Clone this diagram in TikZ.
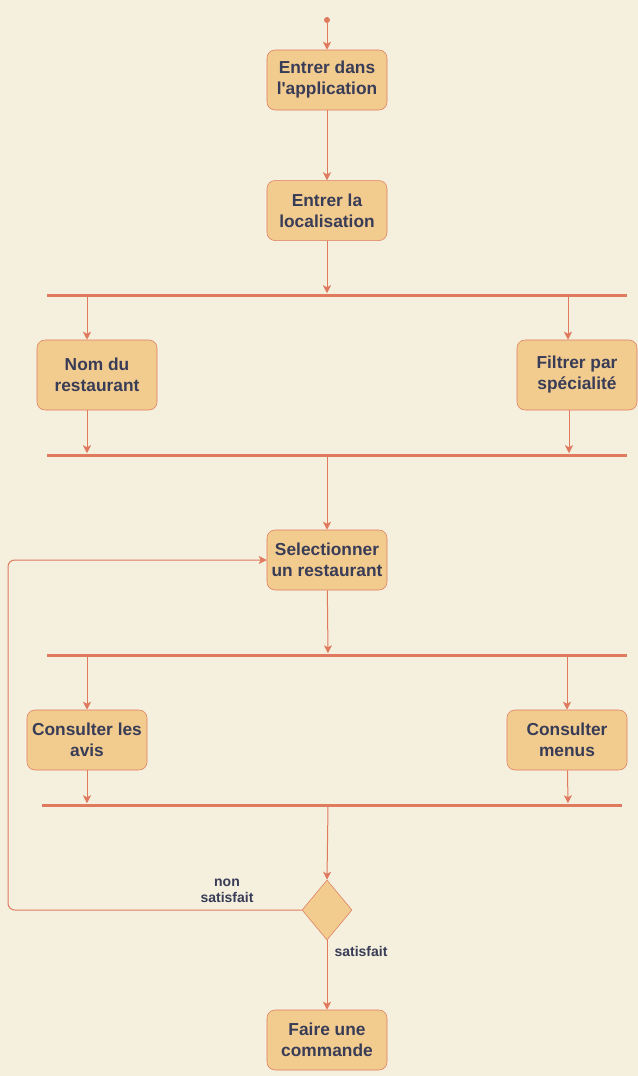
\documentclass[tikz,border=0pt]{standalone}
\usepackage{fontspec}
\newfontfamily\appfont{Liberation Sans}
\usetikzlibrary{positioning,shapes.geometric}
\usetikzlibrary{arrows.meta}
\definecolor{bgc}{HTML}{F4F0DD}
\definecolor{fillc}{HTML}{F2CC8F}
\definecolor{linec}{HTML}{E07A5F}
\definecolor{textc}{HTML}{393C56}

\begin{document}
\begin{tikzpicture}[x=0.75pt,y=-0.75pt]
\tikzstyle{act}=[rectangle, rounded corners=6pt, draw=linec, fill=fillc, text=textc, font=\appfont\bfseries\fontsize{13}{15.75}\selectfont, align=center, minimum width=90pt, minimum height=45pt, inner sep=1pt]
\tikzstyle{bar}=[rectangle, fill=linec, inner sep=0pt, minimum height=2.25pt, minimum width=435pt]
\tikzstyle{dot}=[circle, fill=linec, inner sep=0pt, minimum size=4.5pt]
\tikzstyle{decision}=[diamond, draw=linec, fill=fillc, inner sep=0pt, minimum width=37.5pt, minimum height=45pt]
\tikzstyle{connect}=[-{Stealth[length=6pt,width=6pt,inset=1.5pt]}, draw=linec, line width=0.75pt]
\tikzstyle{lab}=[text=textc, font=\appfont\bfseries\fontsize{10.5}{12}\selectfont, align=center, inner sep=0pt]
  \fill[bgc] (0,0) rectangle (638,1076);
  \useasboundingbox (0,0) rectangle (638,1076);
  \node[dot] (start) at (327,20) {};
  \node[act] (app) at (327,80) {Entrer dans\\l'application};
  \node[act, below=52.5pt of app] (loc) {Entrer la\\localisation};
  \path (start) edge [connect] (app);
  \path (app) edge [connect] (loc);
  \node[bar] (fork1) at (337,295) {};
  \draw[connect] (loc) -- (loc |- fork1.north);
  \node[act, minimum height=52.5pt] (nom) at (97,375) {Nom du\\restaurant};
  \node[act, minimum height=52.5pt] (spec) at (577,375) {Filtrer par\\spécialité};
  \draw[connect] ([xshift=-7.5pt]nom.north |- fork1.south) -- ([xshift=-7.5pt]nom.north);
  \draw[connect] ([xshift=-6.75pt]spec.north |- fork1.south) -- ([xshift=-6.75pt]spec.north);
  \node[bar] (join1) at (337,455) {};
  \draw[connect] ([xshift=-7.5pt]nom.south) -- ([xshift=-7.5pt]nom.south |- join1.north);
  \draw[connect] ([xshift=-6pt]spec.south) -- ([xshift=-6pt]spec.south |- join1.north);
  \node[act] (sel) at (327,560) {Selectionner\\un restaurant};
  \draw[connect] (sel |- join1.south) -- (sel);
  \node[bar] (fork2) at (337,655) {};
  \draw[connect] (sel) -- ([xshift=0.75pt]sel.south |- fork2.north);
  \node[act] (avis) at (87,740) {Consulter les\\avis};
  \node[act] (menus) at (567,740) {Consulter\\menus};
  \draw[connect] (avis |- fork2.south) -- (avis);
  \draw[connect] (menus |- fork2.south) -- (menus);
  \node[bar] (join2) at (332,805) {};
  \draw[connect] (avis) -- (avis |- join2.north);
  \draw[connect] (menus) -- ([xshift=0.75pt]menus.south |- join2.north);
  \node[decision] (dec) at (327,910) {};
  \draw[connect] ([xshift=0.75pt]dec.north |- join2.south) -- (dec.north);
  \draw[connect, rounded corners=5pt] (dec.west) -- (8,910) |- (sel.west);
  \node[lab] (nonsat) at (227,891) {non\\satisfait};
  \node[act] (cmd) at (327,1040) {Faire une\\commande};
  \draw[connect] (dec) -- (cmd);
  \node[lab] (sat) at (361,951) {satisfait};
\end{tikzpicture}
\end{document}
